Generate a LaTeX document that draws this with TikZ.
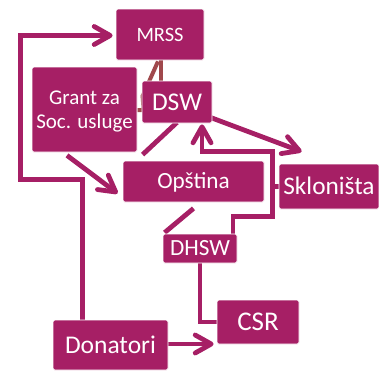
\documentclass[tikz,border=0pt]{standalone}
\usepackage{fontspec}
\setmainfont{Carlito}
\usetikzlibrary{arrows.meta,calc,backgrounds}
\definecolor{mag}{RGB}{166,31,101}
\definecolor{brn}{RGB}{160,72,76}
\tikzset{
 box/.style={fill=mag, draw=white, line width=0.8pt, rounded corners=1.5pt, text=white, inner sep=0pt,
   font=\fontsize{#1pt}{#1pt}\selectfont, text height=0.64*#1pt, text depth=0pt},
 gbox/.style={fill=mag, draw=white, line width=0.8pt, rounded corners=1.5pt, text=white, inner sep=0pt,
   font=\fontsize{21pt}{24pt}\selectfont, align=center, text depth=0pt},
 conn/.style={draw=mag, line width=4.8pt},
 barb/.style={-{Straight Barb[length=16pt,width=18pt,round]}},
 brownline/.style={draw=brn, line width=4pt}
}
\begin{document}
\begin{tikzpicture}[x=1pt,y=-1pt]
\useasboundingbox (0,0) rectangle (379,370);
\node[box=20.4, minimum width=88pt, minimum height=51pt] (mrss) at (160,34.5) {MRSS};
\node[gbox, minimum width=105pt, minimum height=85pt] (grant) at (84.5,109.5) {Grant za\\Soc. usluge};
\node[box=25.5, minimum width=70pt, minimum height=42pt] (dsw) at (177,102) {DSW};
\node[box=23.2, minimum width=141pt, minimum height=41pt] (opstina) at (193.5,181.5) {Opština};
\node[box=25.3, minimum width=100pt, minimum height=45pt] (skl) at (329,186.5) {Skloništa};
\node[box=23.2, minimum width=74pt, minimum height=29pt] (dhsw) at (200,248.5) {DHSW};
\node[box=27, minimum width=82pt, minimum height=44pt] (csr) at (258,322) {CSR};
\node[box=25.5, minimum width=115pt, minimum height=50pt] (donatori) at (110.5,345) {Donatori};
\coordinate (c1) at (20.5,179.5);
\begin{scope}[on background layer]
\draw[conn, barb, shorten >=3pt] ($(donatori.north west)+(30,0)$) |- (c1) |- ($(mrss.west)+(0,1)$);
\draw[conn, barb, shorten >=3pt] ($(donatori.east)+(0,-1)$) -- ($(donatori.east -| csr.west)+(0,-1)$);
\draw[conn, barb] ($(grant.south)+(-17.5,3)$) -- ($(opstina.south west)+(-5,-9)$);
\draw[conn] ($(opstina.north west)+(20,-6)$) -- ($(dsw.south)+(0,-1)$);
\draw[conn, barb] ($(dsw.south east)+(-2,-6)$) -- ($(skl.north west)+(23,-12)$);
\draw[conn, barb, shorten >=1pt] (skl.west) -- ++(-6.5,0) |- ($(dsw.south)+(25,28)$) -- ($(dsw.south)+(25,0)$);
\draw[conn] ($(dhsw.north east)+(-4.5,0)$) -- ++(0,-17) -| ($(skl.west)+(-6.5,0)$);
\draw[conn] ($(dhsw.north west)+(2,-1)$) -- ($(opstina.south)+(0,6)$);
\draw[conn] (dhsw.south) |- (csr.west);
\draw[brownline] ($(mrss.south)+(0.5,0)$) -- ($(dsw.north)+(-16.5,0)$);
\draw[brownline] ($(mrss.south)+(-2,1)$) -- ($(dsw.west)+(1,-6)$) -- ($(dsw.west)+(2,8)$) -- ($(grant.east)+(0,0.5)$);
\end{scope}
\end{tikzpicture}
\end{document}
